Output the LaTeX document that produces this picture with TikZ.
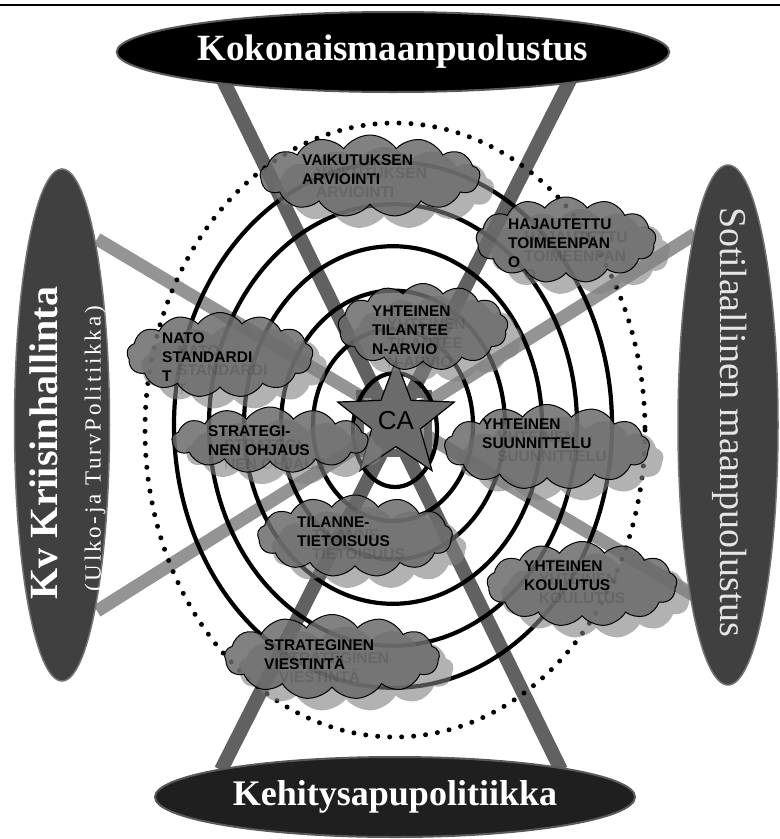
\documentclass[tikz,border=0pt]{standalone}
\usepackage{fontspec}
\setmainfont{Liberation Serif}
\setsansfont{Liberation Sans}
\usetikzlibrary{shapes.geometric,shapes.symbols}
\begin{document}
\begin{tikzpicture}[x=1pt,y=-1pt,
  bigoval/.style={ellipse, fill=black, draw=black!65, line width=2pt, inner sep=0pt, text=white},
  sideoval/.style={ellipse, fill=black!75, draw=black!55, line width=1.5pt, inner sep=0pt},
  darkbar/.style={line width=14pt, draw=black!62},
  lightbar/.style={line width=13pt, draw=black!42},
  ring/.style={line width=4.2pt},
  puff/.style={cloud, cloud puffs=13, cloud puff arc=110, aspect=2.3, inner sep=0pt, fill=black!58, draw=black, line width=1pt, fill opacity=0.85},
  puffshadow/.style={cloud, cloud puffs=13, cloud puff arc=110, aspect=2.3, inner sep=0pt, fill=black!50, opacity=0.6},
  cloudtext/.style={anchor=north west, align=left, inner sep=0pt, font=\sffamily\bfseries\fontsize{15.5}{19}\selectfont},
  ghost/.style={cloudtext, text=black, opacity=0.12}]
\useasboundingbox[fill=white] (0,0) rectangle (780,839);
\draw[line width=2pt] (0,5) -- (780,5);

\coordinate (xa1) at (223,80);
\coordinate (xa2) at (561,770);
\coordinate (xb1) at (570,80);
\coordinate (xb2) at (221,770);
\coordinate (ya1) at (97,239);
\coordinate (ya2) at (695,596);
\coordinate (yb1) at (97,611);
\coordinate (yb2) at (695,234);
\draw[lightbar] (ya1) -- (ya2);
\draw[lightbar] (yb1) -- (yb2);
\draw[darkbar] (xa1) -- (xa2);
\draw[darkbar] (xb1) -- (xb2);

\draw[line width=5pt, line cap=round, dash pattern=on 0pt off 12pt] (395,430) ellipse (250 and 307);
\foreach \r in {80,112,149,184,219}
  \draw[ring] (393,425) ellipse ({\r} and {1.2*\r});
\draw[black!60, line width=8pt] (360,394) rectangle (428,453);
\draw[ring] (395,430) ellipse (42 and 57);
\node[star, star points=5, star point ratio=2.4, minimum size=94pt, fill=black!58, draw=black, line width=1.2pt, inner sep=0pt, font=\sffamily\fontsize{26}{26}\selectfont] (ca) at (396,421) {CA};

\node[puffshadow, minimum width=220pt, minimum height=82pt] (vaikS) at (384,188) {};
\node[puff, minimum width=220pt, minimum height=82pt] (vaik) at (370,176) {};
\node[ghost] (vaikG) at (316,167) {VAIKUTUKSEN\\ARVIOINTI};
\node[cloudtext] (vaikT) at (302,154) {VAIKUTUKSEN\\ARVIOINTI};

\node[puffshadow, minimum width=180pt, minimum height=86pt] (hajaS) at (580,252) {};
\node[puff, minimum width=180pt, minimum height=86pt] (haja) at (566,240) {};
\node[ghost] (hajaG) at (524,232) {HAJAUTETTU\\TOIMEENPAN\\O};
\node[cloudtext] (hajaT) at (508,219) {HAJAUTETTU\\TOIMEENPAN\\O};

\node[puffshadow, minimum width=186pt, minimum height=85pt] (natoS) at (234,367) {};
\node[puff, minimum width=186pt, minimum height=85pt] (nato) at (220,355) {};
\node[ghost] (natoG) at (177,345) {NATO\\STANDARDI\\T};
\node[cloudtext] (natoT) at (162,332) {NATO\\STANDARDI\\T};

\node[puffshadow, minimum width=170pt, minimum height=87pt] (ytilS) at (437,339) {};
\node[puff, minimum width=170pt, minimum height=87pt] (ytil) at (423,327) {};
\node[ghost] (ytilG) at (387,319) {YHTEINEN\\TILANTEE\\N-ARVIO};
\node[cloudtext] (ytilT) at (372,306) {YHTEINEN\\TILANTEE\\N-ARVIO};

\node[puffshadow, minimum width=196pt, minimum height=66pt] (stratS) at (284,452) {};
\node[puff, minimum width=196pt, minimum height=66pt] (strat) at (270,440) {};
\node[ghost] (stratG) at (224,439) {STRATEGI-\\NEN OHJAUS};
\node[cloudtext] (stratT) at (208,425) {STRATEGI-\\NEN OHJAUS};

\node[puffshadow, minimum width=205pt, minimum height=85pt] (ysuunS) at (561,459) {};
\node[puff, minimum width=205pt, minimum height=85pt] (ysuun) at (547,447) {};
\node[ghost] (ysuunG) at (497,432) {YHTEINEN\\SUUNNITTELU};
\node[cloudtext] (ysuunT) at (482,419) {YHTEINEN\\SUUNNITTELU};

\node[puffshadow, minimum width=195pt, minimum height=82pt] (tilaS) at (369,548) {};
\node[puff, minimum width=195pt, minimum height=82pt] (tila) at (355,536) {};
\node[ghost] (tilaG) at (312,530) {TILANNE-\\TIETOISUUS};
\node[cloudtext] (tilaT) at (297,517) {TILANNE-\\TIETOISUUS};

\node[puffshadow, minimum width=190pt, minimum height=85pt] (ykoulS) at (596,596) {};
\node[puff, minimum width=190pt, minimum height=85pt] (ykoul) at (582,584) {};
\node[ghost] (ykoulG) at (539,574) {YHTEINEN\\KOULUTUS};
\node[cloudtext] (ykoulT) at (524,561) {YHTEINEN\\KOULUTUS};

\node[puffshadow, minimum width=215pt, minimum height=85pt] (sviestS) at (346,669) {};
\node[puff, minimum width=215pt, minimum height=85pt] (sviest) at (332,657) {};
\node[ghost] (sviestG) at (279,652) {STRATEGINEN\\VIESTINTÄ};
\node[cloudtext] (sviestT) at (264,639) {STRATEGINEN\\VIESTINTÄ};

\node[bigoval, minimum width=477pt, minimum height=80pt, font=\bfseries\fontsize{37}{37}\selectfont] (kok) at (393,52) {Kokonaismaanpuolustus};
\node[bigoval, fill=black!88, minimum width=480pt, minimum height=80pt, font=\bfseries\fontsize{36}{36}\selectfont] (keh) at (395,797) {Kehitysapupolitiikka};
\node[sideoval, minimum width=95pt, minimum height=512pt] (kv) at (62,425) {};
\node[rotate=90, text=white, font=\bfseries\fontsize{40}{40}\selectfont] (kvT) at (44,443) {Kv Kriisinhallinta};
\node[rotate=90, text=white, font=\fontsize{23}{23}\selectfont\addfontfeatures{LetterSpace=12}] (kvS) at (95,449) {(Ulko-ja TurvPolitiikka)};
\node[sideoval, minimum width=100pt, minimum height=520pt] (sot) at (728,425) {};
\node[rotate=-90, text=black!10, font=\fontsize{38}{38}\selectfont] (sotT) at (730,422) {Sotilaallinen maanpuolustus};
\end{tikzpicture}
\end{document}
